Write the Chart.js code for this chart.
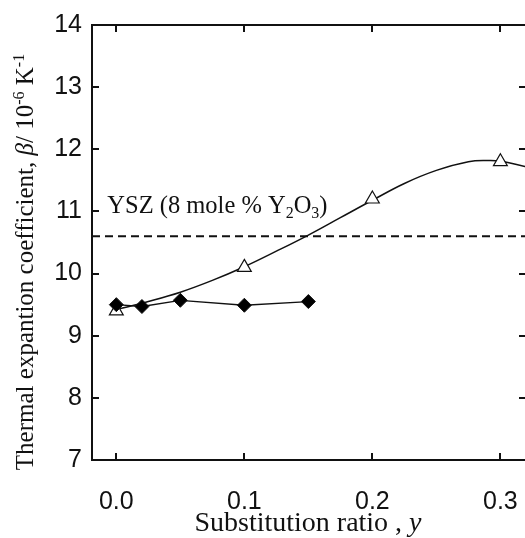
<!DOCTYPE html>
<html lang="en">
<head>
  <meta charset="UTF-8">
  <title>Thermal expansion coefficient</title>
  <style>
    html, body {
      margin: 0;
      padding: 0;
      background: white;
      overflow: hidden;
    }
    canvas {
      display: block;
    }
  </style>
</head>
<body>
  <canvas id="chart" width="540" height="538"></canvas>

  <script src="https://cdn.jsdelivr.net/npm/chart.js@4.4.1/dist/chart.umd.min.js"></script>
  <script>
    // values
    const triangleX = [0, 0.1, 0.2, 0.3];
    const triangleY = [9.4, 10.1, 11.2, 11.8];

    const diamondX = [0, 0.02, 0.05, 0.1, 0.15];
    const diamondY = [9.5, 9.47, 9.57, 9.49, 9.55];

    // smooth guide curve through the triangles
    const curveX = [0, 0.025, 0.05, 0.075, 0.1, 0.125, 0.15, 0.175, 0.2, 0.225, 0.25, 0.275, 0.29, 0.3, 0.32];
    const curveY = [9.42, 9.55, 9.7, 9.89, 10.11, 10.36, 10.62, 10.9, 11.18, 11.45, 11.66, 11.8, 11.82, 11.81, 11.72];

    const yszLevel = 10.6;

    const xTicks = [0, 0.1, 0.2, 0.3];
    const yTicks = [7, 8, 9, 10, 11, 12, 13, 14];
    const xMin = -0.019, xMax = 0.32;
    const yMin = 7, yMax = 14;

    function pts(xs, ys) {
      return xs.map((x, i) => ({ x: x, y: ys[i] }));
    }

    const SERIF = "'Liberation Serif', 'Times New Roman', serif";
    const SANS = "'Liberation Sans', Arial, sans-serif";

    // draw a run of text pieces: [text, style] where style is '', 'i', 'sup', 'sub'
    function richText(ctx, parts, x, y, size, align) {
      const fontFor = p => {
        const small = p[1] === 'sup' || p[1] === 'sub';
        const sz = small ? Math.round(size * 0.64) : size;
        return (p[1] === 'i' ? 'italic ' : '') + sz + 'px ' + SERIF;
      };
      let total = 0;
      parts.forEach(p => { ctx.font = fontFor(p); total += ctx.measureText(p[0]).width; });
      let cx = align === 'center' ? x - total / 2 : x;
      ctx.textAlign = 'left';
      ctx.textBaseline = 'alphabetic';
      parts.forEach(p => {
        ctx.font = fontFor(p);
        let dy = 0;
        if (p[1] === 'sup') dy = -size * 0.38;
        if (p[1] === 'sub') dy = size * 0.22;
        ctx.fillText(p[0], cx, y + dy);
        cx += ctx.measureText(p[0]).width;
      });
    }

    const framePlugin = {
      id: 'frame',
      afterDraw(chart) {
        const ctx = chart.ctx;
        const a = chart.chartArea;
        const xs = chart.scales.x, ys = chart.scales.y;
        ctx.save();
        ctx.strokeStyle = '#111';
        ctx.lineWidth = 2;
        ctx.strokeRect(a.left, a.top, a.right - a.left, a.bottom - a.top);
        const tl = 7;
        ctx.beginPath();
        xTicks.forEach(v => {
          const px = Math.round(xs.getPixelForValue(v));
          ctx.moveTo(px, a.bottom); ctx.lineTo(px, a.bottom - tl);
          ctx.moveTo(px, a.top); ctx.lineTo(px, a.top + tl);
        });
        yTicks.forEach(v => {
          const py = Math.round(ys.getPixelForValue(v));
          ctx.moveTo(a.left, py); ctx.lineTo(a.left + tl, py);
          ctx.moveTo(a.right, py); ctx.lineTo(a.right - tl, py);
        });
        ctx.stroke();

        ctx.fillStyle = '#111';
        // YSZ label
        richText(ctx, [['YSZ (8 mole % Y', ''], ['2', 'sub'], ['O', ''], ['3', 'sub'], [')', '']],
          xs.getPixelForValue(-0.007), ys.getPixelForValue(10.98), 24.5, 'left');

        // x title
        richText(ctx, [['Substitution ratio , ', ''], ['y', 'i']], 308, 531, 28, 'center');

        // y title
        ctx.translate(33, 262);
        ctx.rotate(-Math.PI / 2);
        richText(ctx, [['Thermal expantion coefficient, ', ''], ['\u03b2', 'i'], ['/ 10', ''], ['-6', 'sup'], [' K', ''], ['-1', 'sup']],
          0, 0, 25, 'center');
        ctx.restore();
      }
    };

    const ctx = document.getElementById('chart').getContext('2d');
    new Chart(ctx, {
      type: 'scatter',
      data: {
        datasets: [
          {
            label: 'diamonds',
            data: pts(diamondX, diamondY),
            showLine: true,
            borderColor: '#111',
            borderWidth: 1.3,
            backgroundColor: '#000',
            pointStyle: 'rectRot',
            pointRadius: 7,
            pointBorderWidth: 1,
            tension: 0
          },
          {
            label: 'triangles',
            data: pts(triangleX, triangleY),
            showLine: false,
            borderColor: '#111',
            backgroundColor: '#fff',
            pointStyle: 'triangle',
            pointRadius: 8,
            pointBorderWidth: 1.2
          },
          {
            label: 'curve',
            data: pts(curveX, curveY),
            showLine: true,
            borderColor: '#111',
            borderWidth: 1.5,
            pointRadius: 0,
            tension: 0.4
          },
          {
            label: 'YSZ',
            data: [{ x: xMin, y: yszLevel }, { x: xMax, y: yszLevel }],
            showLine: true,
            borderColor: '#111',
            borderWidth: 2,
            borderDash: [8, 5],
            pointRadius: 0
          }
        ]
      },
      options: {
        responsive: false,
        animation: false,
        devicePixelRatio: 1,
        layout: { padding: { left: 0, top: 25, right: 14, bottom: 0 } },
        plugins: {
          legend: { display: false },
          tooltip: { enabled: false }
        },
        scales: {
          x: {
            type: 'linear',
            min: xMin,
            max: xMax,
            grid: { display: false, drawTicks: false },
            border: { display: false },
            afterBuildTicks: s => { s.ticks = xTicks.map(v => ({ value: v })); },
            afterFit: s => { s.height = 78; s.paddingLeft = 0; s.paddingRight = 0; },
            ticks: {
              padding: 27,
              color: '#111',
              font: { family: SANS, size: 25 },
              callback: v => v.toFixed(1)
            }
          },
          y: {
            type: 'linear',
            min: yMin,
            max: yMax,
            grid: { display: false, drawTicks: false },
            border: { display: false },
            afterBuildTicks: s => { s.ticks = yTicks.map(v => ({ value: v })); },
            afterFit: s => { s.width = 92; s.paddingTop = 0; s.paddingBottom = 0; },
            ticks: {
              padding: 10,
              color: '#111',
              font: { family: SANS, size: 25 },
              callback: v => String(v)
            }
          }
        }
      },
      plugins: [framePlugin]
    });
  </script>
</body>
</html>
